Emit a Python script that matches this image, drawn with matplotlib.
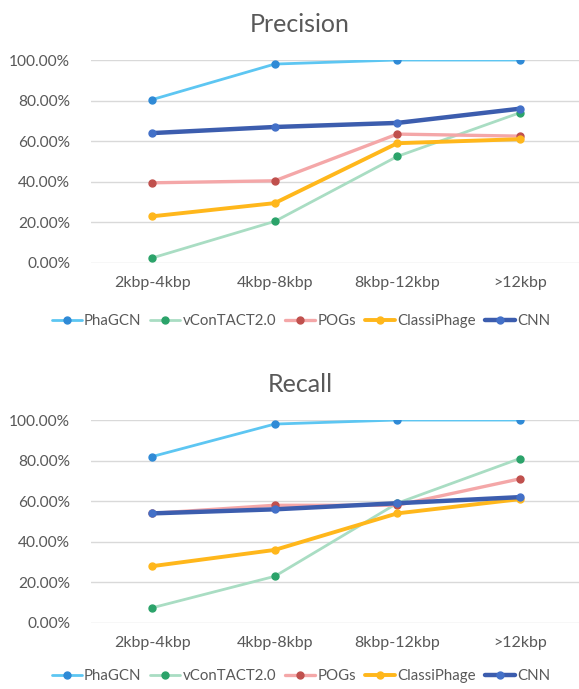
import matplotlib
matplotlib.use("Agg")
import matplotlib.pyplot as plt
from matplotlib.ticker import PercentFormatter

plt.rcParams['font.family'] = ['Lato', 'DejaVu Sans']

###################DATA#########################
categories = ['2kbp-4kbp', '4kbp-8kbp', '8kbp-12kbp', '>12kbp']
methods = ['PhaGCN', 'vConTACT2.0', 'POGs', 'ClassiPhage', 'CNN']

precision_phagcn = [80.5, 98.0, 100.0, 100.0]
precision_vcontact = [2.5, 20.5, 52.5, 74.0]
precision_pogs = [39.5, 40.5, 63.5, 62.5]
precision_classiphage = [23.0, 29.5, 59.0, 61.0]
precision_cnn = [64.0, 67.0, 69.0, 76.0]

recall_phagcn = [82.0, 98.0, 100.0, 100.0]
recall_vcontact = [7.5, 23.0, 59.0, 81.0]
recall_pogs = [54.0, 58.0, 58.0, 71.0]
recall_classiphage = [28.0, 36.0, 54.0, 61.0]
recall_cnn = [54.0, 56.0, 59.0, 62.0]

yticks = [0, 20, 40, 60, 80, 100]
#################################################

# line colour, marker colour, line width
styles = [
    ('#5DC6F2', '#2F8AD6', 2.0),
    ('#A9DDC3', '#2BA36A', 2.0),
    ('#F4A7A8', '#C0504D', 2.4),
    ('#FFB71B', '#FFB71B', 2.8),
    ('#3C5DAE', '#4370C8', 3.2),
]

fig = plt.figure(figsize=(5.79, 6.89), dpi=100)
ax1 = fig.add_axes([91 / 579, 1 - 263 / 689, 490 / 579, 203 / 689])
ax2 = fig.add_axes([91 / 579, 1 - 623 / 689, 490 / 579, 203 / 689])


def draw(ax, title, series, title_y, legend_y):
    x = range(len(categories))
    handles = []
    for vals, name, (lc, mc, lw) in zip(series, methods, styles):
        h, = ax.plot(x, vals, color=lc, lw=lw, marker='o', ms=5,
                     mfc=mc, mec=mc, label=name, solid_capstyle='round')
        handles.append(h)
    ax.set_xlim(-0.5, len(categories) - 0.5)
    ax.set_ylim(0, 100)
    ax.set_yticks(yticks)
    ax.yaxis.set_major_formatter(PercentFormatter(decimals=2))
    ax.set_xticks(list(x))
    ax.set_xticklabels(categories)
    ax.grid(axis='y', color='#D9D9D9', lw=1)
    ax.set_axisbelow(True)
    for s in ax.spines.values():
        s.set_visible(False)
    ax.tick_params(length=0, labelsize=11.5, labelcolor='#595959', pad=9)
    ax.tick_params(axis='y', labelsize=11.2, pad=15)
    # chart title sits over the whole chart, not just the plot area
    fig.text(300 / 579, title_y, title, fontsize=18, color='#595959',
             ha='center', va='center')
    fig.legend(handles=handles, loc='center', bbox_to_anchor=(301 / 579, legend_y),
               ncol=5, frameon=False, fontsize=10.8, handlelength=2.0,
               handletextpad=0.15, columnspacing=0.6, labelcolor='#595959')


draw(ax1, 'Precision', [precision_phagcn, precision_vcontact, precision_pogs,
                        precision_classiphage, precision_cnn],
     1 - 24 / 689, 1 - 321 / 689)
draw(ax2, 'Recall', [recall_phagcn, recall_vcontact, recall_pogs,
                     recall_classiphage, recall_cnn],
     1 - 384 / 689, 1 - 676 / 689)

fig.savefig('out.png', dpi=100)
